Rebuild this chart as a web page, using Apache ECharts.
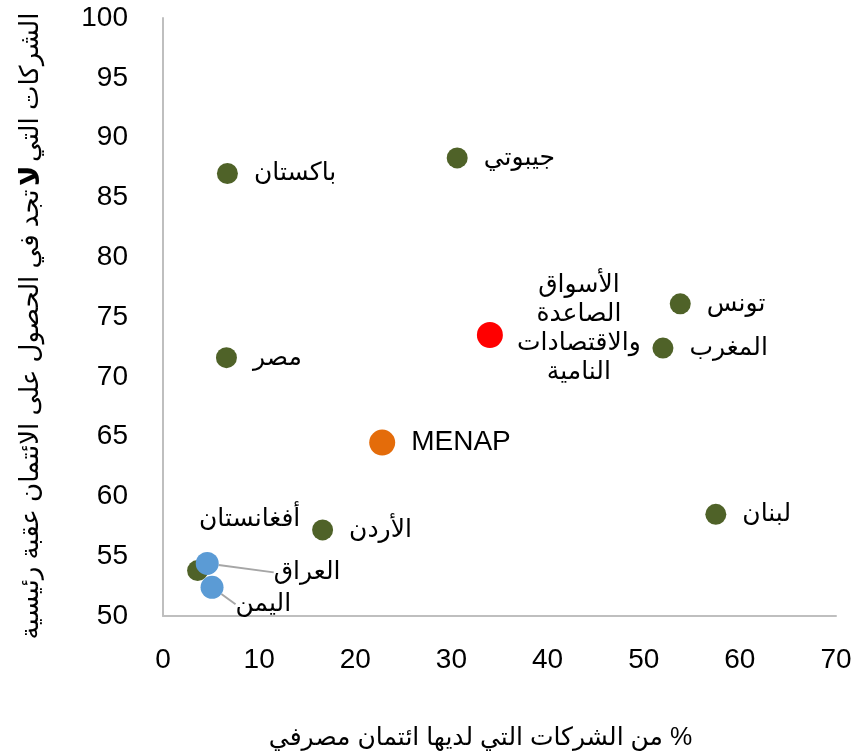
<!DOCTYPE html>
<html>
<head>
<meta charset="utf-8">
<script src="https://cdn.jsdelivr.net/npm/echarts@6/dist/echarts.min.js"></script>
<style>
html, body { margin: 0; padding: 0; background: #fff; }
#chart { width: 868px; height: 756px; }
</style>
</head>
<body>
<div id="chart" dir="rtl"></div>
<script>
// بيانات الدول
var greenNames = ['باكستان', 'جيبوتي', 'مصر', 'تونس', 'المغرب', 'لبنان', 'الأردن', 'أفغانستان'];
var greenX = [6.7, 30.6, 6.6, 53.8, 52.0, 57.5, 16.6, 3.6];
var greenY = [87.0, 88.3, 71.6, 76.1, 72.4, 58.5, 57.2, 53.8];

var blueNames = ['العراق', 'اليمن'];
var blueX = [4.6, 5.1];
var blueY = [54.4, 52.4];

var emdeName = 'الأسواق\nالصاعدة\nوالاقتصادات\nالنامية';
var emdeX = [34.0];
var emdeY = [73.5];

var menapName = 'MENAP';
var menapX = [22.8];
var menapY = [64.5];

var xTicks = [0, 10, 20, 30, 40, 50, 60, 70];
var yTicks = [50, 55, 60, 65, 70, 75, 80, 85, 90, 95, 100];

var fontFam = '"Liberation Sans", "DejaVu Sans", sans-serif';

function pts(names, xs, ys) {
    var out = [];
    for (var i = 0; i < xs.length; i++) {
        out.push({ name: names[i], value: [xs[i], ys[i]] });
    }
    return out;
}

var greenData = pts(greenNames, greenX, greenY);
// أفغانستان: label above the point
greenData[7].label = { position: 'top', offset: [52, -12] };

var blueShift = [[50, 9], [7, 17]];

var chart = echarts.init(document.getElementById('chart'));
var option = {
    animation: false,
    textStyle: { fontFamily: fontFam },
    grid: { left: 163, right: 32, top: 18, bottom: 139 },
    xAxis: {
        type: 'value',
        min: xTicks[0],
        max: xTicks[xTicks.length - 1],
        interval: 10,
        name: '% من الشركات التي لديها ائتمان مصرفي',
        nameLocation: 'middle',
        nameGap: 110,
        nameTextStyle: { fontSize: 25, color: '#000', fontFamily: fontFam, padding: [0, 38, 0, 0] },
        axisLine: { show: true, lineStyle: { color: '#BFBFBF', width: 2 } },
        axisTick: { show: false },
        splitLine: { show: false },
        axisLabel: { fontSize: 28, color: '#000', margin: 30, fontFamily: fontFam }
    },
    yAxis: {
        type: 'value',
        min: yTicks[0],
        max: yTicks[yTicks.length - 1],
        interval: 5,
        name: '{a|تجد في الحصول على الائتمان عقبة رئيسية} {b|لا} {a|الشركات التي}',
        nameLocation: 'middle',
        nameRotate: 90,
        nameGap: 118,
        nameTextStyle: {
            fontFamily: fontFam,
            padding: [0, 18, 0, 0],
            rich: {
                a: { fontSize: 26, color: '#000', fontFamily: fontFam },
                b: { fontSize: 28, color: '#000', fontWeight: 'bold', fontFamily: fontFam }
            }
        },
        axisLine: { show: true, lineStyle: { color: '#BFBFBF', width: 2 } },
        axisTick: { show: false },
        splitLine: { show: false },
        axisLabel: { fontSize: 28, color: '#000', margin: 35, fontFamily: fontFam }
    },
    series: [
        {
            type: 'scatter',
            data: greenData,
            symbolSize: 21,
            itemStyle: { color: '#4F6228', opacity: 1 },
            label: {
                show: true, position: 'right', distance: 16,
                formatter: '{b}', fontSize: 25, color: '#000', fontFamily: fontFam
            }
        },
        {
            type: 'scatter',
            data: pts(blueNames, blueX, blueY),
            symbolSize: 23,
            itemStyle: { color: '#5B9BD5', opacity: 1 },
            label: {
                show: true, position: 'right', distance: 5,
                formatter: '{b}', fontSize: 25, color: '#000', fontFamily: fontFam
            },
            labelLine: { show: true, lineStyle: { color: '#A6A6A6', width: 2 } },
            labelLayout: function (p) {
                return { dx: blueShift[p.dataIndex][0], dy: blueShift[p.dataIndex][1] };
            }
        },
        {
            type: 'scatter',
            data: pts([emdeName], emdeX, emdeY),
            symbolSize: 26,
            itemStyle: { color: '#FF0000', opacity: 1 },
            label: {
                show: true, position: 'right', distance: 12, align: 'center',
                offset: [64, -6], lineHeight: 29,
                formatter: '{b}', fontSize: 25, color: '#000', fontFamily: fontFam
            }
        },
        {
            type: 'scatter',
            data: pts([menapName], menapX, menapY),
            symbolSize: 26,
            itemStyle: { color: '#E46C0A', opacity: 1 },
            label: {
                show: true, position: 'right', distance: 16,
                formatter: '{b}', fontSize: 28, color: '#000', fontFamily: fontFam
            }
        }
    ]
};
chart.setOption(option);
</script>
</body>
</html>
